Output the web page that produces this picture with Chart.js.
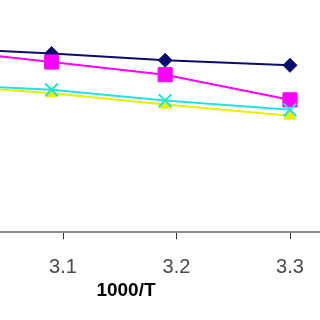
<!DOCTYPE html>
<html>
<head>
<meta charset="utf-8">
<script src="https://cdn.jsdelivr.net/npm/chart.js@4/dist/chart.umd.min.js"></script>
<style>
  html, body { margin: 0; padding: 0; background: #ffffff; overflow: hidden; }
  #quadro { position: relative; width: 320px; height: 320px; overflow: hidden; }
  #grafico { position: absolute; left: -68px; top: 0; }
</style>
</head>
<body>
<div id="quadro"><canvas id="grafico" width="388" height="320"></canvas></div>
<script>
// dados (eixo y sem escala visível)
const eixoX = [3.0, 3.09, 3.19, 3.30];
const serieAzul = [2.374, 2.308, 2.221, 2.156];
const serieMagenta = [2.345, 2.199, 2.035, 1.710];
const serieAmarela = [1.891, 1.796, 1.649, 1.506];
const serieCiano = [1.905, 1.840, 1.701, 1.581];
const ticksX = [3.1, 3.2, 3.3];

function pontos(valores) {
    return eixoX.map((x, i) => ({ x: x, y: valores[i] }));
}

function serie(valores, cor, estilo, raio, ordem) {
    return {
        data: pontos(valores),
        borderColor: cor,
        backgroundColor: cor,
        borderWidth: 2,
        pointStyle: estilo,
        pointRadius: raio,
        pointBorderWidth: estilo === 'crossRot' ? 2 : 1,
        pointBorderColor: cor,
        pointBackgroundColor: cor,
        tension: 0,
        order: ordem
    };
}

const ctx = document.getElementById('grafico').getContext('2d');
new Chart(ctx, {
    type: 'line',
    data: {
        datasets: [
            serie(serieAzul, '#0c0c6c', 'rectRot', 7, 4),
            serie(serieMagenta, '#ff00ff', 'rect', 10, 3),
            serie(serieAmarela, '#e8f000', 'triangle', 7, 2),
            serie(serieCiano, '#22e2e2', 'crossRot', 9, 1)
        ]
    },
    options: {
        responsive: false,
        animation: false,
        layout: { autoPadding: false, padding: { left: 0, right: 0, top: 0, bottom: 18 } },
        plugins: { legend: { display: false }, tooltip: { enabled: false } },
        scales: {
            x: {
                type: 'linear',
                min: 2.98458,
                max: 3.32643,
                afterBuildTicks: s => { s.ticks = ticksX.map(v => ({ value: v })); },
                grid: { drawOnChartArea: false, drawTicks: true, tickLength: 7, color: '#333333', lineWidth: 1 },
                border: { display: true, color: '#8c8c8c', width: 2 },
                ticks: {
                    padding: 16,
                    color: '#4a4a4a',
                    font: { family: 'Liberation Sans', size: 20 },
                    callback: v => v.toFixed(1),
                    maxRotation: 0
                },
                title: {
                    display: true,
                    text: '1000/T',
                    color: '#000000',
                    font: { family: 'Liberation Sans', size: 19, weight: 'bold' },
                    padding: { top: -16, bottom: 0 }
                }
            },
            y: {
                display: false,
                min: 0,
                max: 3
            }
        }
    }
});
</script>
</body>
</html>
